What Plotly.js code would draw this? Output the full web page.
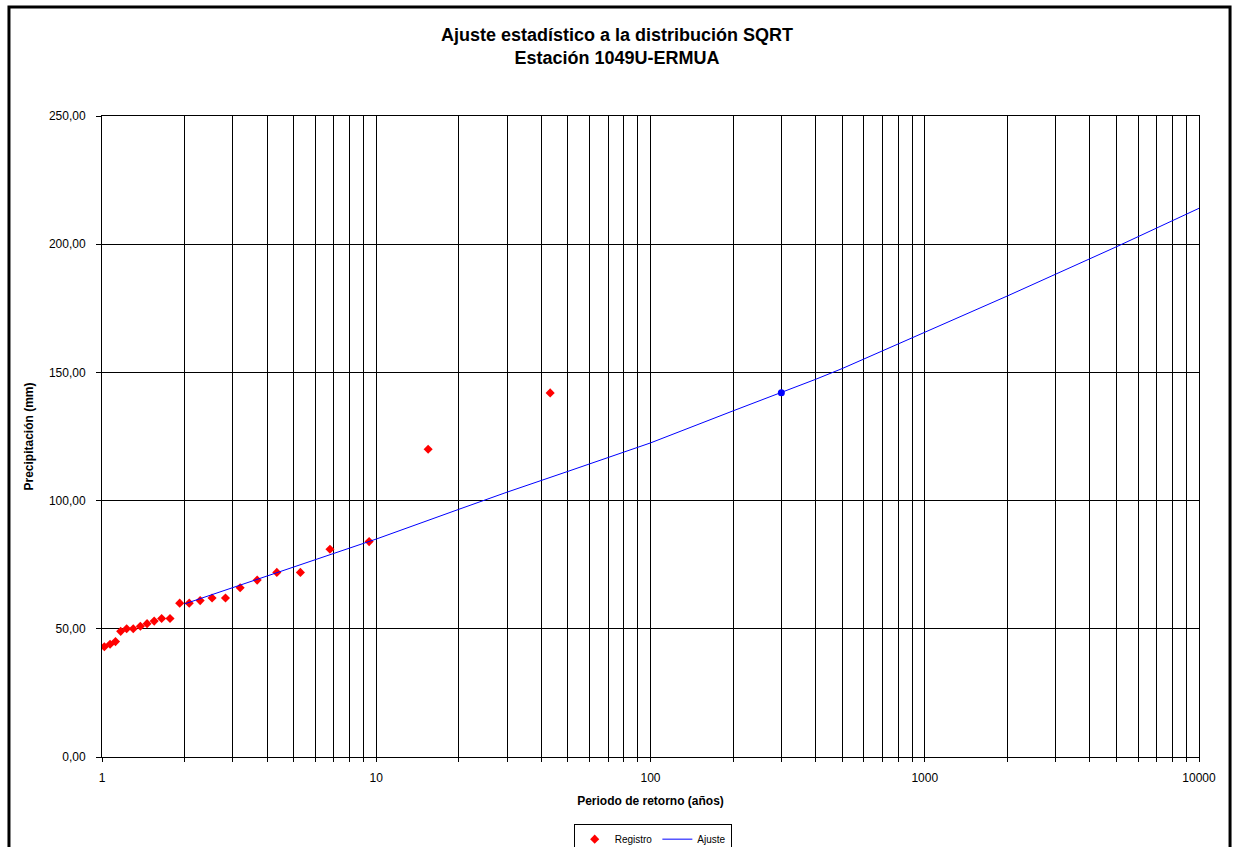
<!DOCTYPE html>
<html>
<head>
<meta charset="utf-8">
<script src="https://cdn.plot.ly/plotly-3.0.1.min.js"></script>
<style>html,body{margin:0;padding:0;background:#fff;}#chart{width:1234px;height:847px;}</style>
</head>
<body>
<div id="chart"></div>
<script>
// Registro (observed)
var periodoRegistro = [1.02,1.07,1.12,1.17,1.23,1.30,1.38,1.46,1.55,1.65,1.77,1.92,2.08,2.28,2.52,2.82,3.19,3.68,4.34,5.29,6.78,9.42,15.46,43.07];
var precipRegistro = [43,44,45,49,50,50,51,52,53,54,54,60,60,61,62,62,66,69,72,72,81,84,120,142];
// Ajuste (fitted curve)
var periodoAjuste = [2,3,5,7,10,20,30,50,70,100,200,300,400,500,1000,2000,3000,5000,10000];
var precipAjuste = [59.7,66.1,74.3,79.5,85.0,96.6,103.3,111.4,116.9,122.5,135.0,142.1,147.3,151.5,165.5,179.8,188.3,199.0,214.0];
// Highlighted design point
var periodoPunto = [300];
var precipPunto = [142.1];
// Axis ticks
var xGridVals = [1,2,3,4,5,6,7,8,9,10,20,30,40,50,60,70,80,90,100,200,300,400,500,600,700,800,900,1000,2000,3000,4000,5000,6000,7000,8000,9000,10000];
var xLabelVals = [1,10,100,1000,10000];
var xLabelText = ['1','10','100','1000','10000'];
var yTickVals = [0,50,100,150,200,250];

var ticktext = xGridVals.map(function(v){var i=xLabelVals.indexOf(v);return i>=0?xLabelText[i]:'';});

var font = 'Liberation Sans, Arial, sans-serif';
var traces = [
  {x: periodoRegistro, y: precipRegistro, type:'scatter', mode:'markers', name:'Registro',
   marker:{symbol:'diamond', color:'#FF0000', size:7}},
  {x: periodoAjuste, y: precipAjuste, type:'scatter', mode:'lines', name:'Ajuste',
   line:{color:'#0000FF', width:1}},
  {x: periodoPunto, y: precipPunto, type:'scatter', mode:'markers', name:'Punto', showlegend:false,
   marker:{symbol:'circle', color:'#0000FF', size:7}}
];
var layout = {
  width:1234, height:847,
  margin:{l:102, r:35, t:116, b:90, autoexpand:false},
  paper_bgcolor:'#fff', plot_bgcolor:'#fff',
  font:{family:font, size:12, color:'#000'},
  title:{text:'<b>Ajuste estadístico a la distribución SQRT<br>Estación 1049U-ERMUA</b>',
         font:{family:font, size:18, color:'#000'}, x:0.5, xref:'container', y:0.952, yref:'container', yanchor:'top'},
  separators:',.',
  xaxis:{type:'log', range:[0,4], tickmode:'array', tickvals:xGridVals, ticktext:ticktext,
         showgrid:true, gridcolor:'#000', gridwidth:1, zeroline:false,
         showline:true, linecolor:'#000', linewidth:1, mirror:true,
         ticks:'outside', ticklen:4, tickcolor:'#000', ticklabelstandoff:6,
         tickfont:{family:font, size:12, color:'#000'},
         title:{text:'<b>Periodo de retorno (años)</b>', font:{family:font, size:12, color:'#000'}, standoff:12}},
  yaxis:{range:[0,250], tickmode:'array', tickvals:yTickVals, tickformat:'.2f',
         showgrid:true, gridcolor:'#000', gridwidth:1, zeroline:false,
         showline:true, linecolor:'#000', linewidth:1, mirror:true,
         ticks:'outside', ticklen:5, tickcolor:'#000', ticklabelstandoff:8,
         tickfont:{family:font, size:12, color:'#000'},
         title:{text:'<b>Precipitación (mm)</b>', font:{family:font, size:12, color:'#000'}, standoff:12}},
  legend:{orientation:'h', x:0.502, xanchor:'center', y:-0.104, yanchor:'top',
          bordercolor:'#000', borderwidth:1, font:{family:font, size:10, color:'#000'}},
  showlegend:true,
  shapes:[{type:'rect', xref:'paper', yref:'paper', x0:-0.0848, x1:1.0283, y0:-0.2, y1:1.1700,
           line:{color:'#000', width:3}, fillcolor:'rgba(0,0,0,0)', layer:'above'}]
};
Plotly.newPlot('chart', traces, layout, {displayModeBar:false, staticPlot:true});
</script>
</body>
</html>
